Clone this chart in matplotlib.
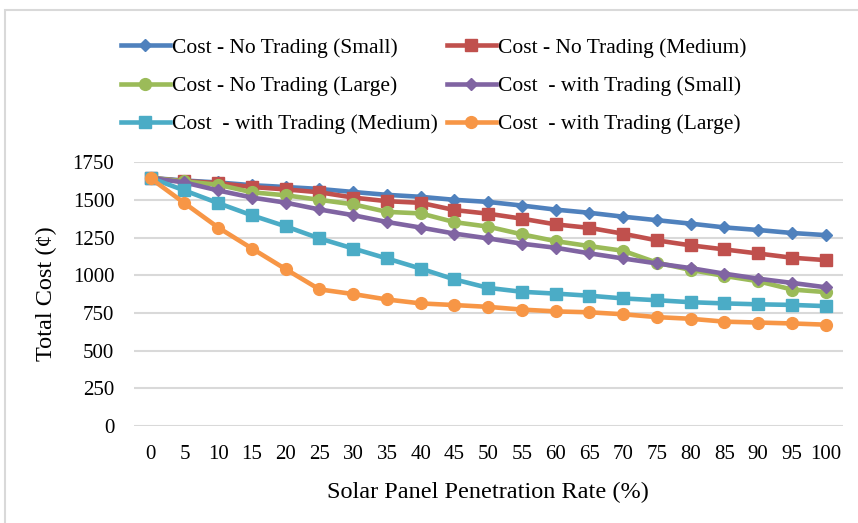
import matplotlib.pyplot as plt
from matplotlib.patches import Rectangle

# penetration rates on the category axis
rates = [0, 5, 10, 15, 20, 25, 30, 35, 40, 45, 50, 55, 60, 65, 70, 75, 80, 85, 90, 95, 100]

no_trade_small = [1645, 1628, 1615, 1597, 1585, 1572, 1552, 1533, 1520, 1500, 1486, 1462, 1435, 1414, 1388, 1365, 1342, 1317, 1300, 1280, 1266]
no_trade_medium = [1645, 1624, 1611, 1585, 1569, 1550, 1515, 1491, 1480, 1432, 1408, 1375, 1337, 1314, 1275, 1231, 1198, 1171, 1144, 1116, 1100]
no_trade_large = [1645, 1622, 1600, 1550, 1530, 1500, 1470, 1420, 1410, 1352, 1322, 1271, 1226, 1193, 1162, 1083, 1035, 995, 960, 905, 888]
trade_small = [1645, 1615, 1562, 1515, 1481, 1436, 1398, 1353, 1316, 1276, 1244, 1209, 1182, 1145, 1111, 1078, 1047, 1010, 977, 949, 920]
trade_medium = [1645, 1562, 1478, 1397, 1324, 1244, 1177, 1111, 1044, 972, 916, 890, 878, 864, 846, 834, 821, 813, 807, 803, 795]
trade_large = [1642, 1478, 1316, 1177, 1040, 906, 875, 839, 813, 802, 790, 772, 760, 754, 741, 722, 711, 692, 686, 680, 672]

labels = ['Cost - No Trading (Small)', 'Cost - No Trading (Medium)', 'Cost - No Trading (Large)',
          'Cost  - with Trading (Small)', 'Cost  - with Trading (Medium)', 'Cost  - with Trading (Large)']
series = [no_trade_small, no_trade_medium, no_trade_large, trade_small, trade_medium, trade_large]
colors = ['#4F81BD', '#C0504D', '#9BBB59', '#8064A2', '#4BACC6', '#F79646']
markers = ['D', 's', 'o', 'D', 's', 'o']
msizes = [6.5, 8.5, 8.5, 6.5, 8.5, 8.5]

plt.rcParams['font.family'] = ['Liberation Serif', 'DejaVu Serif']

fig = plt.figure(figsize=(8.58, 5.23), dpi=100)
# chart-area frame (cut off at the right and bottom)
fig.add_artist(Rectangle((5 / 858, -0.1), 1.2, 1 - 10 / 523 + 0.1, transform=fig.transFigure,
                         facecolor='white', edgecolor='#D9D9D9', linewidth=1.5, zorder=-10))

ax = fig.add_axes([0.156, 0.1855, 0.826, 0.5045])
ax.set_facecolor('none')

pos = list(range(len(rates)))
handles = []
for vals, lab, c, m, ms in zip(series, labels, colors, markers, msizes):
    h, = ax.plot(pos, vals, color=c, marker=m, markersize=ms, linewidth=3.3, label=lab)
    handles.append(h)

ax.set_xlim(-0.5, len(rates) - 0.5)
ax.set_ylim(0, 1750)
ax.set_yticks(range(0, 1751, 250))
ax.set_xticks(pos)
ax.set_xticklabels([str(r) for r in rates])
ax.tick_params(length=0, labelsize=15, colors='black')
ax.tick_params(axis='x', pad=13.5)
ax.tick_params(axis='y', pad=14)
ax.grid(axis='y', color='#D9D9D9', linewidth=1.5)
ax.set_axisbelow(True)
for s in ax.spines.values():
    s.set_visible(False)

ax.set_xlabel('Solar Panel Penetration Rate (%)', fontsize=17.5, labelpad=13)
ax.set_ylabel('Total Cost (¢)', fontsize=17.5, labelpad=11)

# legend reads row by row, matplotlib fills column by column
order = [0, 2, 4, 1, 3, 5]
fig.legend([handles[i] for i in order], [labels[i] for i in order], ncol=2,
           loc='upper left', bbox_to_anchor=(0.1305, 0.944), frameon=False,
           fontsize=15.5, handlelength=2.3, handletextpad=0.1, columnspacing=0.4,
           labelspacing=0.84, borderaxespad=0)

fig.savefig('out.png', dpi=100)
